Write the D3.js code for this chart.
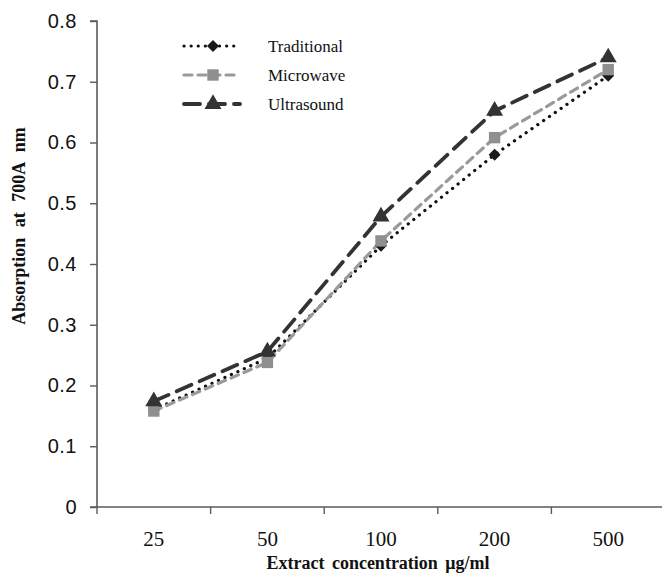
<!DOCTYPE html>
<html>
<head>
<meta charset="utf-8">
<script src="https://cdnjs.cloudflare.com/ajax/libs/d3/7.8.5/d3.min.js"></script>
<style>
  html, body { margin: 0; padding: 0; background: #fff; }
  svg { display: block; }
</style>
</head>
<body>
<div id="chart"></div>
<script>
// data
var categories = ['25', '50', '100', '200', '500'];
var traditional = [0.16, 0.245, 0.43, 0.58, 0.71];
var microwave = [0.158, 0.238, 0.438, 0.608, 0.72];
var ultrasound = [0.174, 0.256, 0.478, 0.652, 0.74];
var yTicks = [0, 0.1, 0.2, 0.3, 0.4, 0.5, 0.6, 0.7, 0.8];

var width = 662, height = 576;
var svg = d3.select('#chart').append('svg')
    .attr('width', width)
    .attr('height', height);

var x = d3.scaleBand().domain(categories).range([97, 665]).padding(0);
var y = d3.scaleLinear().domain([0, 0.8]).range([507, 21]);
var cx = function (c) { return x(c) + x.bandwidth() / 2; };

var axisColor = '#5a5a5a';

// y axis
var yAxis = svg.append('g')
    .attr('transform', 'translate(97,0)')
    .call(d3.axisLeft(y).tickValues(yTicks).tickSize(7).tickPadding(13)
        .tickFormat(function (d) { return d === 0 ? '0' : d3.format('.1f')(d); }));
yAxis.select('.domain').attr('stroke', axisColor).attr('stroke-width', 1.6).attr('d', 'M-7,21H0V507');
yAxis.selectAll('.tick line').attr('stroke', axisColor).attr('stroke-width', 1.4);
yAxis.selectAll('.tick text')
    .style('font-family', '"Liberation Sans", Arial, sans-serif')
    .style('font-size', '20px')
    .style('letter-spacing', '0.5px')
    .attr('fill', '#111');

// x axis with ticks between the categories
svg.append('line')
    .attr('x1', 90).attr('x2', 665)
    .attr('y1', y(0)).attr('y2', y(0))
    .attr('stroke', axisColor).attr('stroke-width', 1.6);
svg.append('g').selectAll('line')
    .data(categories)
    .enter().append('line')
    .attr('x1', function (d) { return x(d); })
    .attr('x2', function (d) { return x(d); })
    .attr('y1', y(0)).attr('y2', y(0) + 7)
    .attr('stroke', axisColor).attr('stroke-width', 1.4);
svg.append('g').selectAll('text')
    .data(categories)
    .enter().append('text')
    .attr('x', cx)
    .attr('y', 546)
    .attr('text-anchor', 'middle')
    .style('font-family', '"Liberation Serif", "Times New Roman", serif')
    .style('font-size', '21px')
    .attr('fill', '#111')
    .text(function (d) { return d; });

// axis titles
svg.append('text')
    .attr('x', 378).attr('y', 569)
    .attr('text-anchor', 'middle')
    .style('font-family', '"Liberation Serif", "Times New Roman", serif')
    .style('font-size', '18px')
    .style('font-weight', 'bold')
    .style('word-spacing', '3px')
    .attr('fill', '#111')
    .text('Extract concentration μg/ml');

svg.append('text')
    .attr('transform', 'translate(25,226) rotate(-90)')
    .attr('text-anchor', 'middle')
    .style('font-family', '"Liberation Serif", "Times New Roman", serif')
    .style('font-size', '18px')
    .style('font-weight', 'bold')
    .style('word-spacing', '6px')
    .attr('fill', '#111')
    .text('Absorption at 700A nm');

var series = [
    { name: 'Traditional', values: traditional, stroke: '#111', width: 3.2, dash: '0.1,7', cap: 'round',
      marker: d3.symbolSquare, size: 72, fill: '#1a1a1a', rot: 45 },
    { name: 'Microwave', values: microwave, stroke: '#9a9a9a', width: 3.2, dash: '8,6', cap: 'round',
      marker: d3.symbolSquare, size: 130, fill: '#8f8f8f', rot: 0 },
    { name: 'Ultrasound', values: ultrasound, stroke: '#333', width: 3.8, dash: '16,9', cap: 'round',
      marker: d3.symbolTriangle, size: 125, fill: '#333', rot: 0 }
];

var line = d3.line()
    .x(function (d, i) { return cx(categories[i]); })
    .y(function (d) { return y(d); });

series.forEach(function (s) {
    svg.append('path')
        .datum(s.values)
        .attr('d', line)
        .attr('fill', 'none')
        .attr('stroke', s.stroke)
        .attr('stroke-width', s.width)
        .attr('stroke-dasharray', s.dash)
        .attr('stroke-linecap', s.cap);
});

series.forEach(function (s) {
    svg.append('g').selectAll('path')
        .data(s.values)
        .enter().append('path')
        .attr('d', d3.symbol().type(s.marker).size(s.size))
        .attr('transform', function (d, i) {
            return 'translate(' + cx(categories[i]) + ',' + y(d) + ') rotate(' + s.rot + ')';
        })
        .attr('fill', s.fill);
});

// legend
var legend = svg.append('g');
series.forEach(function (s, i) {
    var ly = 46 + i * 29;
    legend.append('line')
        .attr('x1', 184).attr('x2', 240)
        .attr('y1', ly).attr('y2', ly)
        .attr('stroke', s.stroke)
        .attr('stroke-width', s.width)
        .attr('stroke-dasharray', s.dash)
        .attr('stroke-linecap', s.cap);
    legend.append('path')
        .attr('d', d3.symbol().type(s.marker).size(s.size))
        .attr('transform', 'translate(213,' + ly + ') rotate(' + s.rot + ')')
        .attr('fill', s.fill);
    legend.append('text')
        .attr('x', 268).attr('y', ly + 6)
        .style('font-family', '"Liberation Serif", "Times New Roman", serif')
        .style('font-size', '17px')
        .attr('fill', '#111')
        .text(s.name);
});
</script>
</body>
</html>
